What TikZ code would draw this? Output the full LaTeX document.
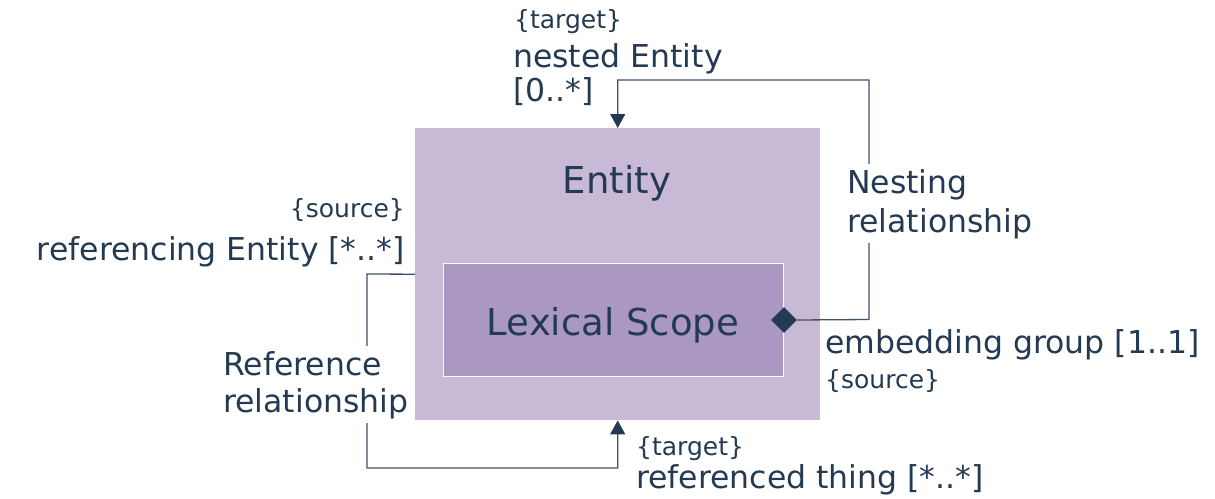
\documentclass[tikz,border=0pt]{standalone}
\usepackage{fontspec}
\setmainfont{DejaVu Sans}
\usetikzlibrary{arrows.meta,shapes.geometric}
\definecolor{ink}{HTML}{243A52}
\definecolor{wire}{HTML}{3F5166}
\definecolor{outerfill}{HTML}{C8B9D6}
\definecolor{innerfill}{HTML}{AB98C2}
\begin{document}
\begin{tikzpicture}[x=1pt,y=-1pt,
  lbl/.style={text=ink,font=\fontsize{31.5}{38}\selectfont,inner sep=0pt},
  tag/.style={text=ink,font=\fontsize{25}{30}\selectfont,inner sep=0pt},
  ttl/.style={text=ink,font=\fontsize{37}{44}\selectfont,inner sep=0pt},
  relbl/.style={lbl,fill=white,text height=25pt,text depth=7pt,inner xsep=2pt,inner ysep=4pt},
  conn/.style={draw=wire,line width=1.3pt},
  tip/.style={-{Triangle[width=15pt,length=14pt,color=ink]}}
]
\useasboundingbox (0,0) rectangle (1215,498);

% classes
\node[fill=outerfill,minimum width=405pt,minimum height=292pt,inner sep=0pt,anchor=north west] (entity) at (415,128) {};
\node[ttl,anchor=base] (entitytext) at (617,193) {Entity};
\node[fill=innerfill,draw=white,line width=1pt,minimum width=340pt,minimum height=113pt,inner sep=0pt,anchor=north west] (scope) at (443,263) {};
\node[ttl,anchor=base] (scopetext) at (613,335) {Lexical Scope};
\node[diamond,fill=ink,minimum width=26pt,minimum height=26pt,inner sep=0pt] (agg) at (scope.east) {};

% nesting relationship
\coordinate (nestR) at (869,319.5);
\coordinate (nestT) at (869,80);
\draw[conn,tip] (agg.east) -- (nestR) -- (nestT) -| (entity.north);

% reference relationship
\coordinate (refL) at (367,274);
\coordinate (refB) at (367,468);
\draw[conn,tip] (entity.west) -- (refL) -- (refB) -| (entity.south);

% role labels
\node[tag,anchor=base west] (nt1) at (514,28) {\{target\}};
\node[lbl,anchor=base west] (nt2) at (513,67) {nested Entity};
\node[lbl,anchor=base west] (nt3) at (513,101) {[0..*]};

\node[relbl,anchor=base west] (ns1) at (845,193) {Nesting};
\node[relbl,anchor=base west] (ns2) at (845,232) {relationship};

\node[lbl,anchor=base west] (eg1) at (825,353) {embedding group [1..1]};
\node[tag,anchor=base west] (eg2) at (825,388) {\{source\}};

\node[tag,anchor=base east] (rs1) at (405,217) {\{source\}};
\node[lbl,anchor=base east] (rs2) at (405,260) {referencing Entity [*..*]};

\node[relbl,anchor=base west] (rr1) at (221,375) {Reference};
\node[relbl,anchor=base west] (rr2) at (221,412) {relationship};

\node[tag,anchor=base west] (rt1) at (636,455) {\{target\}};
\node[lbl,anchor=base west] (rt2) at (636,488) {referenced thing [*..*]};
\end{tikzpicture}
\end{document}
